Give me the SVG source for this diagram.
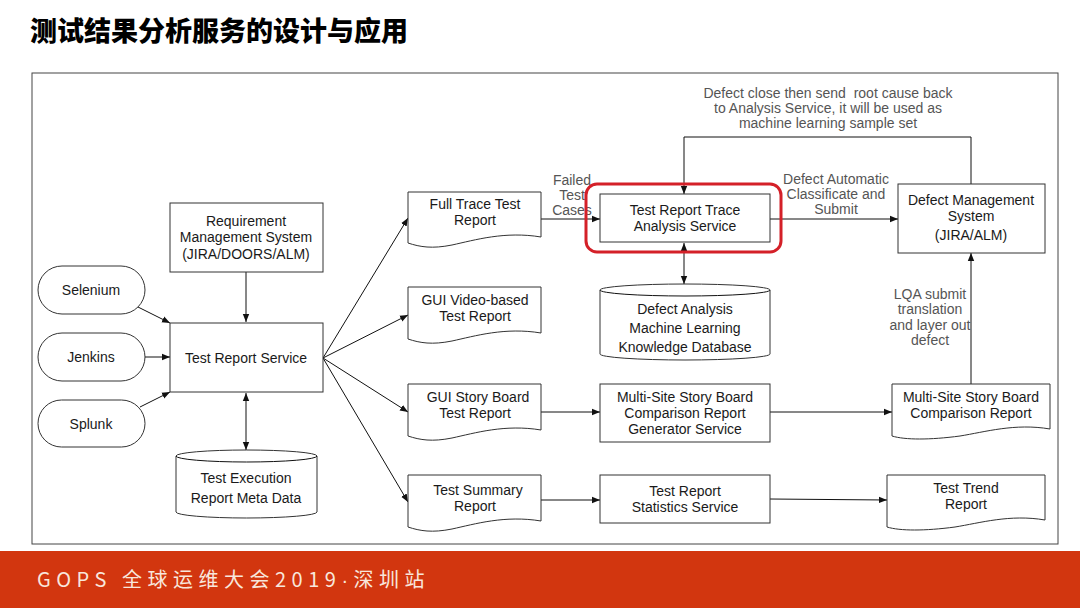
<svg xmlns="http://www.w3.org/2000/svg" width="1080" height="608" viewBox="0 0 1080 608">
<defs>
<style>
.n{fill:#fff;stroke:#333;stroke-width:1}
.t{font-family:"Liberation Sans",Arial,sans-serif;font-size:14px;fill:#1a1a1a;text-anchor:middle}
.l{font-family:"Liberation Sans",Arial,sans-serif;font-size:14px;fill:#555;text-anchor:middle}
.c{fill:none;stroke:#111;stroke-width:1}
</style>
<marker id="a" viewBox="0 0 10 10" refX="10" refY="5" markerWidth="8" markerHeight="8" orient="auto-start-reverse" markerUnits="userSpaceOnUse"><path d="M0,1 L10,5 L0,9 Z" fill="#111"/></marker>
</defs>
<rect width="1080" height="608" fill="#fff"/>
<text x="30" y="41" font-family="'Noto Sans CJK SC',sans-serif" font-size="27" font-weight="900" fill="#000">测试结果分析服务的设计与应用</text>
<rect x="32" y="73" width="1026" height="471" fill="none" stroke="#444" stroke-width="1"/>
<rect x="0" y="551" width="1080" height="57" fill="#d2360f"/>
<text x="37" y="587" font-family="'Noto Sans CJK SC',sans-serif" font-size="20" fill="#f8e6dc" letter-spacing="5.5">GOPS 全球运维大会2019<tspan font-family="'Liberation Sans',sans-serif">·</tspan>深圳站</text>

<g id="connectors">
<line class="c" x1="246" y1="272" x2="246" y2="322" marker-end="url(#a)"/>
<line class="c" x1="138" y1="307" x2="170" y2="323" marker-end="url(#a)"/>
<line class="c" x1="145" y1="357" x2="170" y2="357" marker-end="url(#a)"/>
<line class="c" x1="140" y1="407" x2="170" y2="392" marker-end="url(#a)"/>
<line class="c" x1="246" y1="393" x2="246" y2="450" marker-start="url(#a)" marker-end="url(#a)"/>
<line class="c" x1="323" y1="358" x2="408" y2="218" marker-end="url(#a)"/>
<line class="c" x1="323" y1="358" x2="408" y2="315" marker-end="url(#a)"/>
<line class="c" x1="323" y1="358" x2="408" y2="412" marker-end="url(#a)"/>
<line class="c" x1="323" y1="358" x2="408" y2="502" marker-end="url(#a)"/>
<line class="c" x1="541" y1="219" x2="600" y2="219" marker-end="url(#a)"/>
<line class="c" x1="770" y1="219" x2="898" y2="219" marker-end="url(#a)"/>
<polyline class="c" points="971,184 971,137 684,137 684,194" marker-end="url(#a)"/>
<line class="c" x1="684" y1="243" x2="684" y2="284" marker-start="url(#a)" marker-end="url(#a)"/>
<line class="c" x1="541" y1="412" x2="600" y2="412" marker-end="url(#a)"/>
<line class="c" x1="770" y1="412" x2="892" y2="412" marker-end="url(#a)"/>
<line class="c" x1="971" y1="384" x2="971" y2="253" marker-end="url(#a)"/>
<line class="c" x1="541" y1="500" x2="600" y2="500" marker-end="url(#a)"/>
<line class="c" x1="770" y1="499" x2="887" y2="500" marker-end="url(#a)"/>
<text class="l" x="572" y="185">Failed</text>
<text class="l" x="572" y="200">Test</text>
<text class="l" x="572" y="215">Cases</text>
<text class="l" x="836" y="184">Defect Automatic</text>
<text class="l" x="836" y="199">Classificate and</text>
<text class="l" x="836" y="214">Submit</text>
<text class="l" x="828" y="98" xml:space="preserve">Defect close then send  root cause back</text>
<text class="l" x="828" y="113">to Analysis Service, it will be used as</text>
<text class="l" x="828" y="128">machine learning sample set</text>
<text class="l" x="930" y="299">LQA submit</text>
<text class="l" x="930" y="314">translation</text>
<text class="l" x="930" y="330">and layer out</text>
<text class="l" x="930" y="345">defect</text>
</g>

<g id="req"><rect class="n" x="170" y="203" width="153" height="69"/>
<text class="t" x="246" y="226">Requirement</text><text class="t" x="246" y="242">Management System</text><text class="t" x="246" y="259">(JIRA/DOORS/ALM)</text></g>
<g id="selenium"><rect class="n" x="38" y="266" width="107" height="48" rx="24"/><text class="t" x="91" y="295">Selenium</text></g>
<g id="jenkins"><rect class="n" x="38" y="333" width="107" height="48" rx="24"/><text class="t" x="91" y="362">Jenkins</text></g>
<g id="splunk"><rect class="n" x="38" y="400" width="107" height="47" rx="23.5"/><text class="t" x="91" y="429">Splunk</text></g>
<g id="trs"><rect class="n" x="170" y="323" width="153" height="69"/><text class="t" x="246" y="363">Test Report Service</text></g>
<g id="texec"><path class="n" d="M176,456 A70.5,6 0 0 1 317,456 V512 A70.5,6 0 0 1 176,512 Z"/><path class="c" stroke="#333" d="M176,456 A70.5,6 0 0 0 317,456"/>
<text class="t" x="246" y="483">Test Execution</text><text class="t" x="246" y="503">Report Meta Data</text></g>

<g id="fulltrace"><path class="n" d="M408,192 H541 V237 C505,231 475,240 452,245 C432,249 420,247 408,243 Z"/>
<text class="t" x="475" y="209">Full Trace Test</text><text class="t" x="475" y="225">Report</text></g>
<g id="guivideo"><path class="n" d="M408,287 H541 V333 C505,327 475,336 452,341 C432,345 420,343 408,339 Z"/>
<text class="t" x="475" y="305">GUI Video-based</text><text class="t" x="475" y="321">Test Report</text></g>
<g id="guistory"><path class="n" d="M408,384 H541 V430 C505,424 475,433 452,438 C432,442 420,440 408,436 Z"/>
<text class="t" x="478" y="402">GUI Story Board</text><text class="t" x="475" y="418">Test Report</text></g>
<g id="summary"><path class="n" d="M408,475 H541 V521 C505,515 475,524 452,529 C432,533 420,531 408,527 Z"/>
<text class="t" x="478" y="495">Test Summary</text><text class="t" x="475" y="511">Report</text></g>

<g id="trtas"><rect x="586" y="184" width="195" height="68" rx="11" fill="none" stroke="#d42028" stroke-width="3"/>
<rect class="n" x="600" y="194" width="170" height="48"/>
<text class="t" x="685" y="215">Test Report Trace</text><text class="t" x="685" y="231">Analysis Service</text></g>
<g id="mldb"><path class="n" d="M600,290 A85,6 0 0 1 770,290 V354 A85,6 0 0 1 600,354 Z"/><path class="c" stroke="#333" d="M600,290 A85,6 0 0 0 770,290"/>
<text class="t" x="685" y="314">Defect Analysis</text><text class="t" x="685" y="333">Machine Learning</text><text class="t" x="685" y="352">Knowledge Database</text></g>
<g id="msgen"><rect class="n" x="600" y="384" width="170" height="58"/>
<text class="t" x="685" y="402">Multi-Site Story Board</text><text class="t" x="685" y="418">Comparison Report</text><text class="t" x="685" y="434">Generator Service</text></g>
<g id="stats"><rect class="n" x="600" y="475" width="170" height="48"/>
<text class="t" x="685" y="496">Test Report</text><text class="t" x="685" y="512">Statistics Service</text></g>
<g id="dms"><rect class="n" x="898" y="184" width="147" height="69"/>
<text class="t" x="971" y="205">Defect Management</text><text class="t" x="971" y="221">System</text><text class="t" x="971" y="240">(JIRA/ALM)</text></g>
<g id="msreport"><path class="n" d="M892,384 H1050 V429 C1015,423 985,432 960,436 C930,440 905,440 892,436 Z"/>
<text class="t" x="971" y="402">Multi-Site Story Board</text><text class="t" x="971" y="418">Comparison Report</text></g>
<g id="trend"><path class="n" d="M887,475 H1045 V520 C1010,514 980,523 955,527 C925,531 900,531 887,527 Z"/>
<text class="t" x="966" y="493">Test Trend</text><text class="t" x="966" y="509">Report</text></g>
</svg>
